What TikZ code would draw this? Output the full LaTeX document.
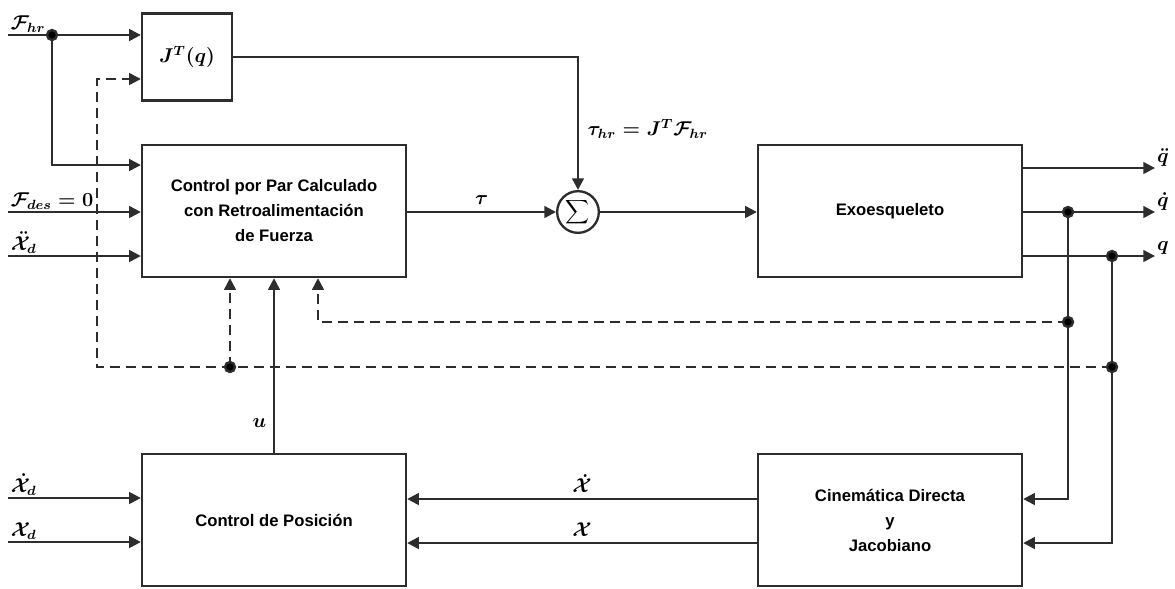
\documentclass[tikz,border=0pt]{standalone}
\usepackage{amsmath}
\usepackage{fontspec}
\usepackage{tikz}
\usetikzlibrary{arrows.meta}
\newfontfamily\blockfont{Liberation Sans}
\definecolor{wire}{RGB}{45,45,45}

\tikzset{
  blockbox/.style = {draw=wire, line width=1.4pt, minimum width=158.4pt, minimum height=79.2pt,
                     align=center, font=\blockfont\bfseries\fontsize{10}{15}\selectfont},
  sumnode/.style  = {draw=wire, line width=1.4pt, circle, minimum size=25pt, inner sep=0pt},
  sig/.style      = {draw=wire, line width=1.4pt, -{Triangle[length=7pt,width=7pt]}},
  wire/.style     = {draw=wire, line width=1.4pt},
  fb/.style       = {dash pattern=on 6pt off 3.6pt},
  lbl/.style      = {font=\fontsize{11.5}{13}\selectfont\boldmath, inner sep=1pt}
}

\begin{document}
\begin{tikzpicture}[x=0.6pt, y=-0.6pt]
            \useasboundingbox (0,0) rectangle (1175,588);

            \node[blockbox, minimum width=54pt, minimum height=52.2pt, font=\fontsize{11.5}{13}\selectfont\boldmath] (jac) at (187,57) {$J^T(q)$};
            \node[blockbox] (ctrl) at (274,211) {Control por Par Calculado\\con Retroalimentación\\de Fuerza};
            \node[sumnode] (sum) at (578,212) {$\displaystyle\sum$};
            \node[blockbox] (exo) at (890,211) {Exoesqueleto};
            \node[blockbox] (pos) at (274,520) {Control de Posición};
            \node[blockbox] (kin) at (890,520) {Cinemática Directa\\y\\Jacobiano};

            \coordinate (fhr)  at (8,35);
            \coordinate (fsplit) at (52,35);
            \coordinate (fdes) at (8,212);
            \coordinate (xdd)  at (8,256);
            \coordinate (xd1)  at (8,498);
            \coordinate (xd0)  at (8,542);
            \coordinate (qddout) at (1155,168);
            \coordinate (qdout)  at (1155,212);
            \coordinate (qout)   at (1155,256);
            \coordinate (qdtap)  at (1068,212);
            \coordinate (qtap)   at (1112,256);
            \coordinate (qdfb)   at (1068,322);
            \coordinate (qfb)    at (1112,367);
            \coordinate (jfb)    at (97,367);
            \coordinate (cfb)    at (230,367);

            \draw[sig] (fhr) node[lbl, anchor=south west] {$\mathcal{F}_{hr}$} -- (jac.west |- fhr);
            \draw[sig] (fsplit) |- (ctrl.west |- 0,165);
            \draw[sig] (fdes) node[lbl, anchor=south west] {$\mathcal{F}_{des}=0$} -- (ctrl.west |- fdes);
            \draw[sig] (xdd) node[lbl, anchor=south west] {$\ddot{\mathcal{X}}_d$} -- (ctrl.west |- xdd);
            \draw[sig] (xd1) node[lbl, anchor=south west] {$\dot{\mathcal{X}}_d$} -- (pos.west |- xd1);
            \draw[sig] (xd0) node[lbl, anchor=south west] {$\mathcal{X}_d$} -- (pos.west |- xd0);

            \draw[sig] (jac.east) -| (sum.north) node[lbl, pos=0.77, right=4pt] {$\tau_{hr}=J^T\mathcal{F}_{hr}$};
            \draw[sig] (ctrl.east |- sum) -- (sum.west) node[lbl, midway, above=3pt] {$\tau$};
            \draw[sig] (sum.east) -- (exo.west |- sum);

            \draw[sig] (exo.east |- qddout) -- (qddout) node[lbl, anchor=south west, inner sep=0.5pt] {$\ddot{q}$};
            \draw[sig] (exo.east |- qdout) -- (qdout) node[lbl, anchor=south west, inner sep=0.5pt] {$\dot{q}$};
            \draw[sig] (exo.east |- qout) -- (qout) node[lbl, anchor=south west, inner sep=0.5pt] {$q$};

            \draw[sig] (qdtap) |- (kin.east |- 0,499);
            \draw[sig] (qtap) |- (kin.east |- 0,543);
            \draw[sig] (kin.west |- 0,499) -- (pos.east |- 0,499) node[lbl, midway, above=2pt] {$\dot{\mathcal{X}}$};
            \draw[sig] (kin.west |- 0,543) -- (pos.east |- 0,543) node[lbl, midway, above=2pt] {$\mathcal{X}$};
            \draw[sig] (pos.north) -- (ctrl.south) node[lbl, pos=0.17, left=3pt] {$u$};

            \draw[sig, fb] (qfb) -- (jfb) |- (jac.west |- 0,79);
            \draw[sig, fb] (cfb) -- (ctrl.south -| cfb);
            \draw[sig, fb] (qdfb) -| (ctrl.south -| 318,0);

            \foreach \p in {fsplit, qdtap, qtap, qdfb, qfb, cfb}
              \fill[wire] (\p) circle (3pt);
        \end{tikzpicture}
\end{document}
